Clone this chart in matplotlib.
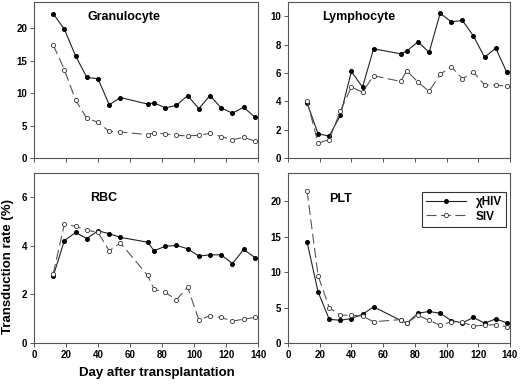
import matplotlib
matplotlib.use('Agg')
import matplotlib.pyplot as plt

plt.rcParams['font.family'] = ['Liberation Sans', 'DejaVu Sans']
plt.rcParams['font.weight'] = 'bold'

# Days of sampling
days = [12, 19, 26, 33, 40, 47, 54, 71, 75, 82, 89, 96, 103, 110, 117, 124, 131, 138]

gran_hiv = [22.2, 19.8, 15.7, 12.4, 12.2, 8.2, 9.3, 8.3, 8.5, 7.7, 8.1, 9.6, 7.6, 9.6, 7.7, 6.9, 7.8, 6.3]
gran_siv = [17.4, 13.6, 8.9, 6.1, 5.5, 4.1, 4.0, 3.6, 3.9, 3.7, 3.5, 3.4, 3.5, 3.8, 3.3, 2.8, 3.2, 2.6]

lymph_hiv = [3.9, 1.7, 1.55, 3.0, 6.1, 5.0, 7.7, 7.35, 7.55, 8.2, 7.45, 10.2, 9.6, 9.7, 8.6, 7.1, 7.75, 6.05]
lymph_siv = [4.05, 1.05, 1.3, 3.3, 5.0, 4.65, 5.8, 5.4, 6.15, 5.35, 4.7, 5.9, 6.45, 5.6, 6.05, 5.15, 5.15, 5.05]

rbc_hiv = [2.75, 4.22, 4.55, 4.3, 4.62, 4.5, 4.35, 4.15, 3.8, 3.98, 4.02, 3.88, 3.58, 3.63, 3.63, 3.27, 3.85, 3.52]
rbc_siv = [2.85, 4.9, 4.8, 4.65, 4.55, 3.8, 4.12, 2.78, 2.22, 2.08, 1.78, 2.3, 0.95, 1.12, 1.05, 0.9, 0.98, 1.05]

plt_hiv = [14.3, 7.2, 3.35, 3.2, 3.45, 4.05, 5.1, 3.2, 2.8, 4.2, 4.45, 4.2, 3.15, 2.85, 3.6, 2.8, 3.4, 2.85]
plt_siv = [21.5, 9.5, 5.0, 3.9, 3.95, 3.8, 3.0, 3.3, 2.85, 3.9, 3.2, 2.5, 3.0, 2.9, 2.4, 2.5, 2.6, 2.3]

xticks = [0, 20, 40, 60, 80, 100, 120, 140]

fig = plt.figure(figsize=(5.2, 3.84), dpi=100)

panels = [
    ('Granulocyte', gran_hiv, gran_siv, [0.0654, 0.5885, 0.4308, 0.4063], (0, 24), [0, 5, 10, 15, 20], (0.40, 0.905), False),
    ('Lymphocyte', lymph_hiv, lymph_siv, [0.5538, 0.5885, 0.4269, 0.4063], (0, 11), [0, 2, 4, 6, 8, 10], (0.32, 0.905), False),
    ('RBC', rbc_hiv, rbc_siv, [0.0654, 0.1068, 0.4308, 0.4427], (0, 7), [0, 2, 4, 6], (0.31, 0.85), True),
    ('PLT', plt_hiv, plt_siv, [0.5538, 0.1068, 0.4269, 0.4427], (0, 24), [0, 5, 10, 15, 20], (0.235, 0.845), True),
]

for name, hiv, siv, pos, ylim, yticks, tpos, xlab in panels:
    ax = fig.add_axes(pos)
    ax.plot(days, hiv, '-', color='#222222', lw=0.8, marker='o', ms=2.6,
            mfc='black', mec='black', label='\u03c7HIV', clip_on=False, zorder=3)
    ln, = ax.plot(days, siv, '--', color='#555555', lw=0.8, marker='o', ms=3.0,
                  mfc='white', mec='#333333', mew=0.6, label='SIV', clip_on=False, zorder=3)
    ln.set_dashes((9, 4))
    ax.set_xlim(0, 140)
    ax.set_ylim(*ylim)
    ax.set_xticks(xticks)
    ax.set_yticks(yticks)
    if not xlab:
        ax.set_xticklabels([])
    for s in ax.spines.values():
        s.set_color('#555555')
        s.set_linewidth(0.8)
    ax.tick_params(direction='out', length=3, width=0.7, color='#555555',
                   labelsize=7, pad=2)
    for lab in ax.get_xticklabels() + ax.get_yticklabels():
        lab.set_fontweight('bold')
    ax.text(tpos[0], tpos[1], name, transform=ax.transAxes, ha='center', va='center',
            fontsize=9, fontweight='bold')
    if name == 'PLT':
        leg = ax.legend(loc='upper right', bbox_to_anchor=(0.982, 0.888), borderaxespad=0,
                        fancybox=False, framealpha=1, edgecolor='#333333', fontsize=8.5,
                        handlelength=3.4, handletextpad=0.8, borderpad=0.35, labelspacing=0.2)
        leg.get_frame().set_linewidth(0.8)

fig.text(0.015, 0.305, 'Transduction rate (%)', rotation=90, ha='center', va='center',
         fontsize=9.5, fontweight='bold')
fig.text(0.302, 0.029, 'Day after transplantation', ha='center', va='center',
         fontsize=9.5, fontweight='bold')

fig.savefig('out.png', dpi=100)
